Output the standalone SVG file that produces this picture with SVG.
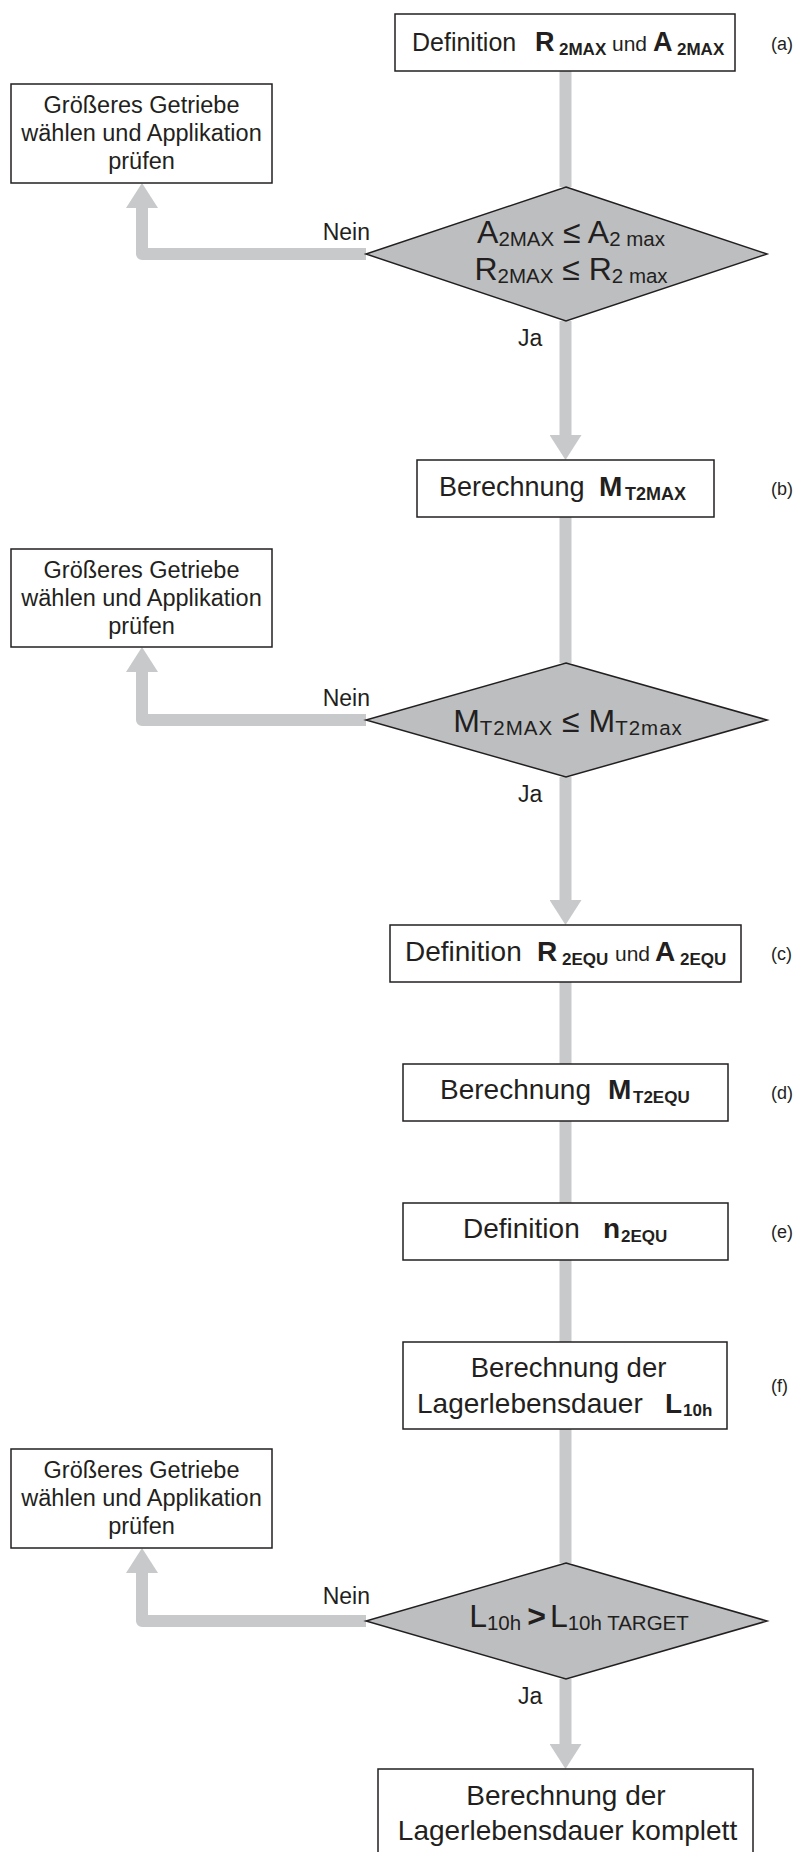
<svg xmlns="http://www.w3.org/2000/svg" width="797" height="1852" viewBox="0 0 797 1852">
<style>
text{font-family:"Liberation Sans",Arial,sans-serif;fill:#231f20}
.box{fill:#fff;stroke:#231f20;stroke-width:1.5}
.dia{fill:#bcbec0;stroke:#231f20;stroke-width:1.5}
.con{fill:none;stroke:#c8c9cb;stroke-width:12;stroke-linejoin:round}
.b{font-weight:bold}
.lbl{font-size:18px}
.side{font-size:23.5px}
.yn{font-size:23px}
.big{font-size:32px}
.sub{font-size:20.5px}
</style>
<defs>
<marker id="ah" viewBox="0 0 25 32" refX="0" refY="16" markerWidth="25" markerHeight="32" markerUnits="userSpaceOnUse" orient="auto"><path d="M0,0 L25,16 L0,32 Z" fill="#c8c9cb"/></marker>
</defs>
<g id="connectors">
<path class="con" d="M565.5,71 V187"/>
<path class="con" d="M565.5,321 V435" marker-end="url(#ah)"/>
<path class="con" d="M565.5,517 V663"/>
<path class="con" d="M565.5,777 V900" marker-end="url(#ah)"/>
<path class="con" d="M565.5,982 V1064"/>
<path class="con" d="M565.5,1121 V1203"/>
<path class="con" d="M565.5,1260 V1342"/>
<path class="con" d="M565.5,1429 V1563"/>
<path class="con" d="M565.5,1679 V1744" marker-end="url(#ah)"/>
<path class="con" d="M366,254 H142 V208" marker-end="url(#ah)"/>
<path class="con" d="M366,720 H142 V672" marker-end="url(#ah)"/>
<path class="con" d="M366,1621 H142 V1573" marker-end="url(#ah)"/>
<text class="yn" x="370" y="240" text-anchor="end">Nein</text>
<text class="yn" x="518" y="346">Ja</text>
<text class="yn" x="370" y="706" text-anchor="end">Nein</text>
<text class="yn" x="518" y="802">Ja</text>
<text class="yn" x="370" y="1604" text-anchor="end">Nein</text>
<text class="yn" x="518" y="1704">Ja</text>
</g>
<g id="node-a">
<rect class="box" x="395" y="14" width="340" height="57"/>
<text><tspan x="412" y="51" font-size="25">Definition</tspan><tspan class="b" x="535" y="51" font-size="27">R</tspan><tspan class="b" x="559" y="55" font-size="17">2MAX</tspan><tspan x="612" y="51" font-size="21">und</tspan><tspan class="b" x="653" y="51" font-size="27">A</tspan><tspan class="b" x="677" y="55" font-size="17">2MAX</tspan></text>
<text class="lbl" x="771" y="50">(a)</text>
</g>
<g id="node-no1">
<rect class="box" x="11" y="84" width="261" height="99"/>
<text class="side" text-anchor="middle"><tspan x="141.5" y="113">Größeres Getriebe</tspan><tspan x="141.5" y="141">wählen und Applikation</tspan><tspan x="141.5" y="169">prüfen</tspan></text>
</g>
<g id="node-d1">
<polygon class="dia" points="566,187 767,254 566,321 366,254"/>
<text x="571" y="243" text-anchor="middle"><tspan class="big">A</tspan><tspan class="sub" dy="3">2MAX</tspan><tspan class="big" dy="-3"> ≤ A</tspan><tspan class="sub" dy="3">2 max</tspan></text>
<text x="571" y="280" text-anchor="middle"><tspan class="big">R</tspan><tspan class="sub" dy="3">2MAX</tspan><tspan class="big" dy="-3"> ≤ R</tspan><tspan class="sub" dy="3">2 max</tspan></text>
</g>
<g id="node-b">
<rect class="box" x="417" y="460" width="297" height="57"/>
<text><tspan x="439" y="496" font-size="27">Berechnung</tspan><tspan class="b" x="599" y="496" font-size="28">M</tspan><tspan class="b" x="625" y="500" font-size="18">T2MAX</tspan></text>
<text class="lbl" x="771" y="495">(b)</text>
</g>
<g id="node-no2">
<rect class="box" x="11" y="549" width="261" height="98"/>
<text class="side" text-anchor="middle"><tspan x="141.5" y="578">Größeres Getriebe</tspan><tspan x="141.5" y="606">wählen und Applikation</tspan><tspan x="141.5" y="634">prüfen</tspan></text>
</g>
<g id="node-d2">
<polygon class="dia" points="566,663 767,720 566,777 366,720"/>
<text x="568" y="732" text-anchor="middle"><tspan class="big">M</tspan><tspan class="sub" dy="3" letter-spacing="1">T2MAX</tspan><tspan class="big" dy="-3"> ≤ M</tspan><tspan class="sub" dy="3" letter-spacing="1">T2max</tspan></text>
</g>
<g id="node-c">
<rect class="box" x="390" y="925" width="351" height="57"/>
<text><tspan x="405" y="961" font-size="28">Definition</tspan><tspan class="b" x="537" y="961" font-size="28">R</tspan><tspan class="b" x="562" y="965" font-size="17">2EQU</tspan><tspan x="615" y="961" font-size="21">und</tspan><tspan class="b" x="655" y="961" font-size="28">A</tspan><tspan class="b" x="680" y="965" font-size="17">2EQU</tspan></text>
<text class="lbl" x="771" y="960">(c)</text>
</g>
<g id="node-d">
<rect class="box" x="403" y="1064" width="325" height="57"/>
<text><tspan x="440" y="1099" font-size="28">Berechnung</tspan><tspan class="b" x="608" y="1099" font-size="28">M</tspan><tspan class="b" x="633" y="1103" font-size="17">T2EQU</tspan></text>
<text class="lbl" x="771" y="1099">(d)</text>
</g>
<g id="node-e">
<rect class="box" x="403" y="1203" width="325" height="57"/>
<text><tspan x="463" y="1238" font-size="28">Definition</tspan><tspan class="b" x="603" y="1238" font-size="28">n</tspan><tspan class="b" x="621" y="1242" font-size="17">2EQU</tspan></text>
<text class="lbl" x="771" y="1238">(e)</text>
</g>
<g id="node-f">
<rect class="box" x="403" y="1342" width="324" height="87"/>
<text x="568.5" y="1377" font-size="27.5" text-anchor="middle">Berechnung der</text>
<text><tspan x="417" y="1413" font-size="28">Lagerlebensdauer</tspan><tspan class="b" x="665" y="1413" font-size="28">L</tspan><tspan class="b" x="683" y="1416" font-size="17">10h</tspan></text>
<text class="lbl" x="771" y="1392">(f)</text>
</g>
<g id="node-no3">
<rect class="box" x="11" y="1449" width="261" height="99"/>
<text class="side" text-anchor="middle"><tspan x="141.5" y="1478">Größeres Getriebe</tspan><tspan x="141.5" y="1506">wählen und Applikation</tspan><tspan x="141.5" y="1534">prüfen</tspan></text>
</g>
<g id="node-d3">
<polygon class="dia" points="566,1563 767,1621 566,1679 366,1621"/>
<text x="579" y="1627" text-anchor="middle"><tspan class="big">L</tspan><tspan class="sub" dy="3">10h</tspan><tspan class="big b" dy="-3" dx="6" font-size="34">&gt;</tspan><tspan class="big" dx="4">L</tspan><tspan class="sub" dy="3">10h TARGET</tspan></text>
</g>
<g id="node-end">
<rect class="box" x="378" y="1769" width="375" height="100"/>
<text x="566" y="1805" font-size="28" text-anchor="middle">Berechnung der</text>
<text x="567.5" y="1840" font-size="28" text-anchor="middle">Lagerlebensdauer komplett</text>
</g>
</svg>
